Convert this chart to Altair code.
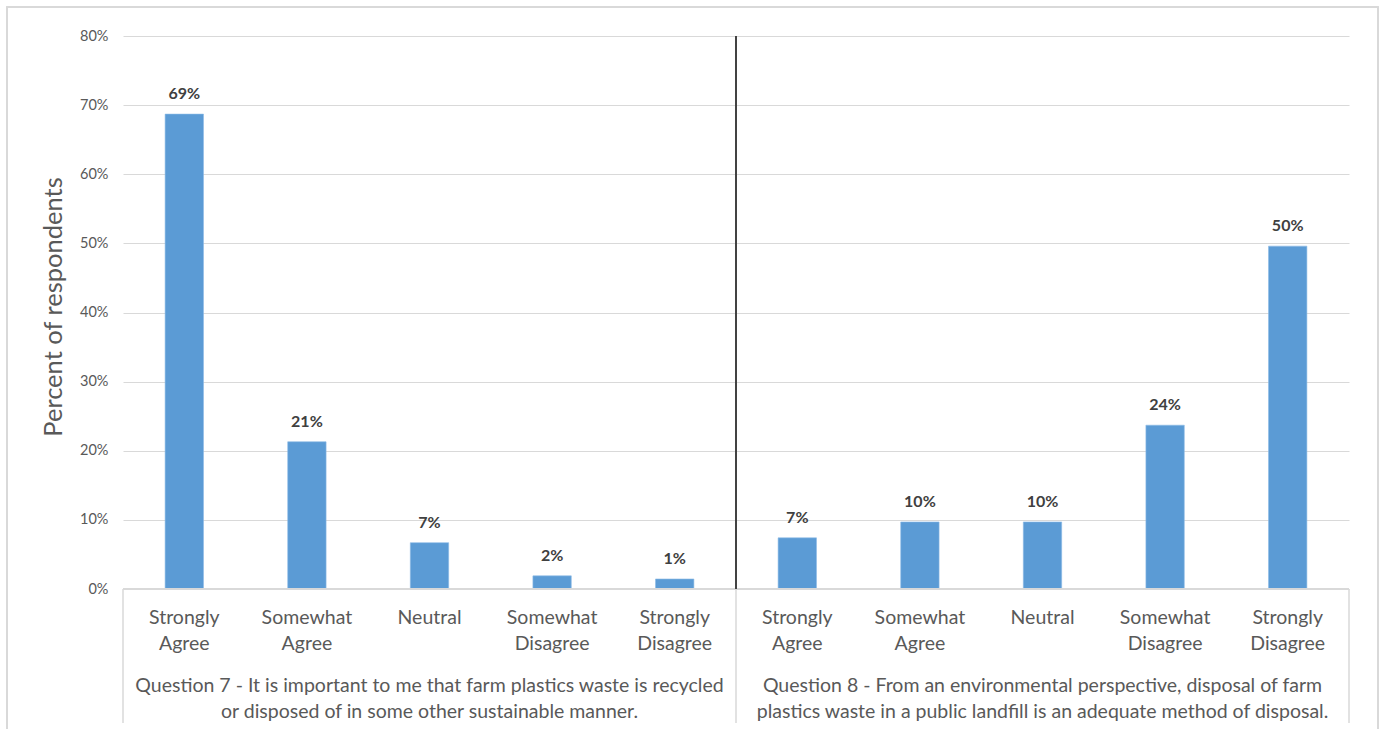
import altair as alt
import pandas as pd

# Survey responses (share of respondents) for two statements
responses = ["Strongly\nAgree", "Somewhat\nAgree", "Neutral", "Somewhat\nDisagree", "Strongly\nDisagree"]
q7_share = [0.687, 0.213, 0.067, 0.019, 0.0145]
q8_share = [0.074, 0.097, 0.097, 0.237, 0.496]

questions = [
    "Question 7 - It is important to me that farm plastics waste is recycled\nor disposed of in some other sustainable manner.",
    "Question 8 - From an environmental perspective, disposal of farm\nplastics waste in a public landfill is an adequate method of disposal.",
]
y_ticks = [0.0, 0.1, 0.2, 0.3, 0.4, 0.5, 0.6, 0.7, 0.8]

# Plot area geometry (pixels)
PLOT_W, PLOT_H = 1226, 553
PAD_L, PAD_T = 123, 36
TOTAL_W, TOTAL_H = 1382, 729

FONT = "Lato"
GREY_TXT = "#595959"
GRID = "#d9d9d9"
BAR = "#5b9bd5"

rows = []
for q_idx, shares in enumerate([q7_share, q8_share]):
    for r_idx, (resp, val) in enumerate(zip(responses, shares)):
        rows.append({
            "key": f"Q{q_idx + 7}-{r_idx}",
            "response": resp,
            "share": val,
        })
df = pd.DataFrame(rows)
keys = list(df["key"])

groups = pd.DataFrame({
    "key": [keys[2], keys[7]],
    "question": questions,
})

x_scale = alt.Scale(domain=keys, paddingInner=0.687, paddingOuter=0.3435)
x_enc = alt.X("key:N", scale=x_scale, axis=None)

bars = alt.Chart(df).mark_bar(color=BAR, stroke="#8cbbe6", strokeWidth=0.6).encode(
    x=x_enc,
    y=alt.Y(
        "share:Q",
        scale=alt.Scale(domain=[0, 0.8], nice=False),
        axis=alt.Axis(
            values=y_ticks,
            format=".0%",
            grid=True,
            gridColor=GRID,
            gridWidth=1,
            domain=False,
            ticks=False,
            labelFont=FONT,
            labelFontSize=14.5,
            labelColor=GREY_TXT,
            labelPadding=15,
            title="Percent of respondents",
            titleFont=FONT,
            titleFontSize=25.5,
            titleFontWeight="normal",
            titleColor=GREY_TXT,
            titlePadding=13,
            titleY=PLOT_H / 2 - 6,
        ),
    ),
)

values = alt.Chart(df).mark_text(
    font=FONT, fontSize=16, fontWeight="bold", color="#404040",
    baseline="alphabetic", dy=-15,
).encode(
    x=x_enc,
    y="share:Q",
    text=alt.Text("share:Q", format=".0%"),
)

cat_labels = alt.Chart(df).mark_text(
    font=FONT, fontSize=19.5, color=GREY_TXT, baseline="top",
    lineBreak="\n", lineHeight=25.5,
).encode(
    x=x_enc,
    y=alt.value(PLOT_H + 20),
    text="response:N",
)

group_labels = alt.Chart(groups).mark_text(
    font=FONT, fontSize=19.5, color=GREY_TXT, baseline="top",
    lineBreak="\n", lineHeight=25.5,
).encode(
    x=x_enc,
    y=alt.value(PLOT_H + 88),
    text="question:N",
)

# Category axis line and the dividers between question groups
step = PLOT_W / len(keys)
div_x = [0, step * len(responses), PLOT_W]
dividers = pd.DataFrame({"px": div_x})

axis_line = alt.Chart(dividers).mark_rule(color=GRID, strokeWidth=1.5).encode(
    x=alt.value(0), x2=alt.value(PLOT_W), y=alt.value(PLOT_H)
)

div_rules = alt.Chart(dividers).mark_rule(color=GRID, strokeWidth=1.5).encode(
    x=alt.X("px:Q", scale=None),
    y=alt.value(PLOT_H),
    y2=alt.value(PLOT_H + 134),
)

mid_line = alt.Chart(dividers).mark_rule(color="#404040", strokeWidth=1.5).encode(
    x=alt.value(div_x[1]),
    y=alt.value(0),
    y2=alt.value(PLOT_H),
)

frame = alt.Chart(dividers).mark_rect(fill=None, stroke=GRID, strokeWidth=1.5).encode(
    x=alt.value(7 - PAD_L),
    x2=alt.value(1378 - PAD_L),
    y=alt.value(7 - PAD_T),
    y2=alt.value(TOTAL_H + 20 - PAD_T),
)

chart = alt.layer(
    frame, bars, values, axis_line, div_rules, mid_line, cat_labels, group_labels
).properties(
    width=PLOT_W,
    height=PLOT_H,
    autosize=alt.AutoSizeParams(type="none"),
    padding={"left": PAD_L, "top": PAD_T, "right": TOTAL_W - PAD_L - PLOT_W, "bottom": TOTAL_H - PAD_T - PLOT_H},
    background="white",
).configure_view(stroke=None)

chart.save("out.html", embed_options={"renderer": "svg", "actions": False})
